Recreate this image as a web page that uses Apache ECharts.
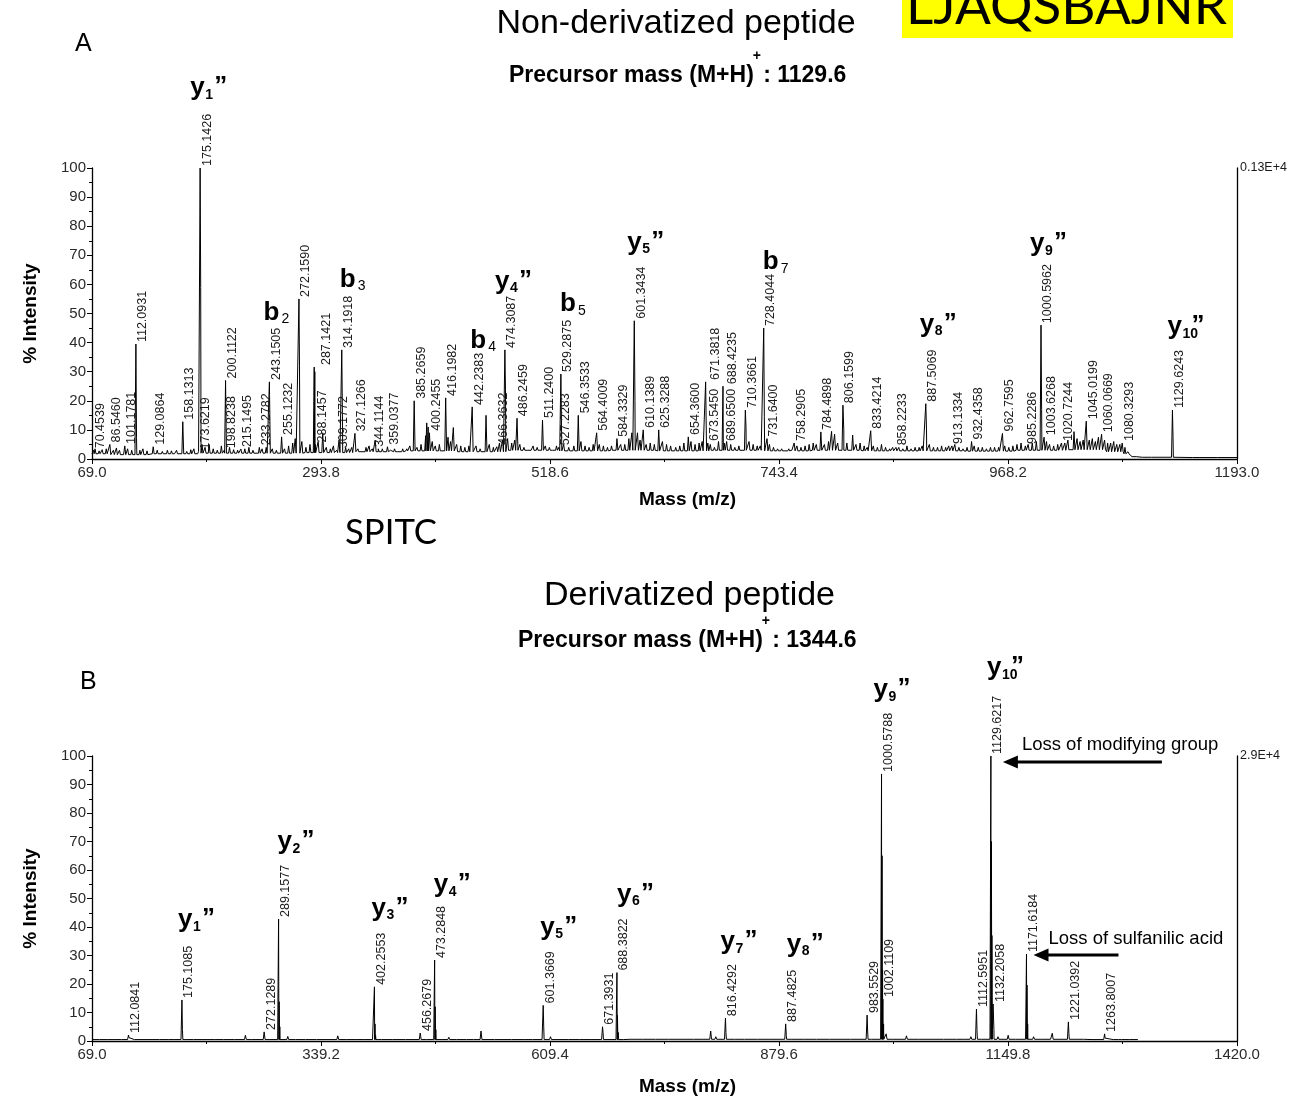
<!DOCTYPE html>
<html>
<head>
<meta charset="utf-8">
<title>MS/MS spectra</title>
<script src="https://cdn.jsdelivr.net/npm/echarts@6/dist/echarts.min.js"></script>
<style>
  html, body { margin: 0; padding: 0; background: #fff; }
  #chart { width: 1301px; height: 1097px; }
</style>
</head>
<body>
<div id="chart"></div>
<script>
// ---------------- Panel A: non-derivatized peptide ----------------
const tickLabelsA = ['69.0', '293.8', '518.6', '743.4', '968.2', '1193.0'];
const precursorA = '1129.6';

// labelled peaks [m/z, % intensity]
const peaksA = [
  [70.4539, 3], [86.5460, 5], [101.1781, 4.5], [112.0931, 39.5], [129.0864, 4.2],
  [158.1313, 12.8], [173.6219, 2.6], [175.1426, 100], [198.8238, 3], [200.1122, 27],
  [215.1495, 3.4], [233.2782, 4], [243.1505, 26.5], [255.1232, 7.6], [272.1590, 55],
  [287.1421, 31.6], [288.1457, 5], [309.1772, 3], [314.1918, 37.5], [327.1266, 8.8],
  [344.1144, 3.5], [359.0377, 4.2], [385.2659, 20], [400.2455, 9], [416.1982, 21],
  [442.2383, 17.9], [466.3632, 4.2], [474.3087, 37.5], [486.2459, 14], [511.2400, 13.4],
  [527.2283, 4], [529.2875, 29.2], [546.3533, 15], [564.4009, 9], [584.3329, 7],
  [601.3434, 47.5], [610.1389, 10], [625.3288, 10], [654.3600, 7.6], [671.3818, 26.5],
  [673.5450, 5.5], [688.4235, 25], [689.6500, 5.5], [710.3661, 16.8], [728.4044, 45],
  [731.6400, 7], [758.2905, 5.5], [784.4898, 9.3], [806.1599, 18.5], [833.4214, 9.7],
  [858.2233, 4], [887.5069, 19], [913.1334, 4.5], [932.4358, 6], [962.7595, 8.8],
  [985.2286, 4.5], [1000.5962, 46], [1003.6268, 7.5], [1020.7244, 5.5], [1045.0199, 13],
  [1060.0669, 8.5], [1080.3293, 5.5], [1129.6243, 16.8]
];

// unlabelled peaks, shoulders and baseline grass [m/z, % intensity]
const minorA = [
  [72, 3.5], [76, 2.8], [79, 3.2], [83, 3.5], [90, 3], [93, 3.8], [96, 3], [104, 3.5], [108, 3],
  [112.7, 7.5], [116, 3], [119, 3.5], [123, 2.8], [133, 3], [138, 2.6], [143, 3], [147, 2.8],
  [152, 3], [162, 2.6], [166, 3.2], [169, 3.5], [175.7, 59], [177, 5], [180, 4], [184, 5],
  [188, 3.5], [192, 3], [196, 4.5], [200.7, 9], [204, 4], [208, 3.2], [212, 3], [219, 3.5],
  [223, 4], [227, 3], [236, 3.5], [240, 4], [246, 3.5], [250, 3], [258, 3.5], [262, 4.5],
  [266, 5.5], [268.5, 7], [272.7, 32], [275, 6], [279, 4], [283, 5], [287.7, 30], [291, 6],
  [295.5, 9], [299, 4], [303, 3.5], [306, 4.5], [311.5, 6.5], [314.8, 16], [318, 4], [321, 3.5],
  [324, 4], [330, 3.5], [334, 3], [338, 4], [341, 4.5], [347, 6.5], [350, 3.5], [354, 3.5],
  [362, 3], [366, 3.5], [370, 3], [374, 3.5], [378, 3.5], [381, 4.5], [388, 4], [392, 5],
  [396.5, 8], [397.6, 12.4], [399, 11], [403, 6], [406, 4.5], [410, 5], [418.5, 7.5], [421, 6],
  [423.7, 10.8], [427, 5], [431, 4.5], [435, 4], [439, 4.5], [446, 4.5], [450, 3.5], [455.8, 15],
  [459, 5], [463, 4], [469, 5.5], [472, 6.5], [474.9, 24], [477, 7], [481, 5.5], [484, 6.5],
  [489, 5], [493, 4], [497, 3.5], [502, 4.5], [506, 4], [514, 4.5], [518, 4], [522, 3.5],
  [525, 4.5], [532, 5], [537, 4], [542, 4.5], [549, 6], [553, 4.5], [557, 4], [561, 5],
  [567, 5], [571, 4.5], [575, 4], [579, 4.5], [588, 5], [592, 5], [596, 7], [599, 9],
  [602, 20], [604.5, 9], [607, 6.5], [613, 5], [617, 5.5], [621, 5], [629, 6], [633, 5],
  [637, 4.5], [642, 4], [646, 4.5], [650, 5.5], [657, 6], [661, 5], [665, 5.5], [668, 6],
  [676, 5], [680, 4], [684, 6], [692, 6], [696, 5], [700, 4], [704, 4.5], [711, 11], [714, 6],
  [718, 5], [722, 4.5], [725, 4.5], [729, 14.5], [734, 5], [738, 4], [742, 3.5], [746, 3.5],
  [750, 3], [753, 3.5], [756, 3], [761, 4.5], [765, 4], [769, 4.5], [773, 5], [777, 5.5],
  [780, 5], [788, 5], [792, 6], [795, 9.5], [798, 8.5], [801, 5.5], [807, 10], [810, 5.5],
  [815.7, 8.2], [819, 5], [823, 5.5], [827, 4.5], [830, 4], [836, 4.5], [840, 4], [844, 5],
  [848, 4], [852, 3.5], [855, 4], [861, 4], [865, 3.5], [869, 4.5], [873, 3.5], [877, 4],
  [881, 4], [884, 4.5], [888.2, 10], [891, 5], [895, 4], [899, 4], [903, 4.5], [907, 4],
  [910, 4.5], [916, 5], [920, 4], [924, 3.5], [928, 4], [935, 4.5], [939, 4], [943, 4],
  [947, 3.5], [951, 4], [955, 4], [959, 4], [965, 4.5], [969, 4], [973, 4.5], [977, 5],
  [981, 5.5], [988, 5], [992, 5.5], [996, 6], [1001.2, 17], [1006, 6], [1009, 5], [1013, 4.5],
  [1017, 5], [1024, 5.5], [1027, 6.5], [1033, 9.4], [1036, 7], [1039, 6], [1042, 6.5],
  [1048, 6.5], [1051, 7], [1054, 6], [1057, 7.5], [1063, 6.5], [1066, 5.5], [1069, 5.5],
  [1072, 6], [1075, 5], [1078, 5], [1083, 4], [1086, 2.5], [1095, 1], [1110, 0.8],
  [1130.2, 7.7], [1150, 0.7], [1175, 0.7]
];

// valley level of the trace [m/z, % intensity]
const baseA = [
  [69, 1.8], [100, 1.5], [150, 1.8], [200, 2], [250, 2], [300, 2.2], [350, 2.5], [400, 2.8],
  [450, 2.5], [500, 3], [550, 2.8], [600, 3], [650, 2.8], [700, 3], [750, 2.8], [800, 3],
  [850, 2.8], [900, 2.8], [950, 2.7], [1000, 3], [1050, 3.2], [1080, 2.5], [1085, 1.8],
  [1090, 0.8], [1100, 0.6], [1193, 0.5]
];

// fragment ion assignments [ion type, index, m/z of assigned peak]
const ionsA = [
  ['y', '1', 175.1426], ['b', '2', 243.1505], ['b', '3', 314.1918], ['b', '4', 442.2383],
  ['y', '4', 474.3087], ['b', '5', 529.2875], ['y', '5', 601.3434], ['b', '7', 728.4044],
  ['y', '8', 887.5069], ['y', '9', 1000.5962], ['y', '10', 1129.6243]
];

// ---------------- Panel B: derivatized peptide ----------------
const tickLabelsB = ['69.0', '339.2', '609.4', '879.6', '1149.8', '1420.0'];
const precursorB = '1344.6';

const peaksB = [
  [112.0841, 2.1], [175.1085, 14.4], [272.1289, 3.2], [289.1577, 42.8], [402.2553, 19],
  [456.2679, 2.8], [473.2848, 28.4], [601.3669, 12.5], [671.3931, 5], [688.3822, 24],
  [816.4292, 8], [887.4825, 6], [983.5529, 9.1], [1000.5788, 93.7], [1002.1109, 14.7],
  [1112.5951, 11.2], [1129.6217, 100], [1132.2058, 13], [1171.6184, 30.5], [1221.0392, 6.7],
  [1263.8007, 2.5]
];

const minorB = [
  [79, 0.9], [88, 1], [96, 0.8], [105, 1], [112.6, 1.2], [120, 0.9], [135, 1], [150, 0.8],
  [160, 1.1], [168, 1], [175.7, 4], [180, 1.2], [190, 0.9], [200, 1.1], [215, 0.8], [225, 1.2],
  [238, 1], [250, 2], [258, 0.9], [272.9, 2.5], [280, 1.2], [289.8, 13.8], [290.6, 5], [300, 1.6],
  [310, 1], [322, 1.1], [335, 0.9], [345, 1.1], [359, 1.8], [370, 1], [381.7, 1.2], [390, 0.9],
  [402.9, 6], [403.6, 2], [412, 1.2], [425, 1], [440, 1.1], [456.9, 1.5], [465, 1], [473.9, 12],
  [474.7, 4], [482, 1.2], [490, 1.3], [500, 1], [512, 1.1], [520, 0.9], [528, 3.5], [535, 1],
  [545, 1.2], [555, 1], [565, 1.1], [580, 1], [590, 1.2], [602, 5], [610, 1.5], [620, 1],
  [632, 1.1], [645, 1], [660, 1.2], [672, 3], [689, 9], [689.9, 3], [697, 1.2], [705, 1],
  [720, 1.1], [735, 1], [750, 1], [765, 1.1], [780, 1], [790, 1.2], [799, 3.5], [805, 1.5],
  [817, 3], [828, 1], [840, 1.1], [855, 1], [870, 1.1], [888.2, 2], [895, 1], [910, 1.1],
  [925, 1], [940, 1.1], [955, 1.2], [965, 1], [975, 1.3], [984.2, 3.5], [990, 1.2],
  [1001.2, 65], [1001.8, 25], [1003, 6], [1006, 2.5], [1015, 1.2], [1030, 1.8], [1045, 1],
  [1060, 1.1], [1075, 1], [1090, 1.2], [1100, 1], [1106, 1.5], [1113.2, 4], [1120, 1.2],
  [1130.2, 70], [1130.8, 37], [1133.2, 4], [1138, 1.5], [1150, 2], [1160, 1.2], [1172.2, 19.6],
  [1173, 6], [1180, 1.5], [1190, 1.1], [1202, 2.7], [1210, 1.2], [1221.7, 2.5], [1230, 1],
  [1240, 1.1], [1250, 1], [1264.4, 1], [1275, 1], [1285, 1.1], [1294, 1]
];

const baseB = [
  [69, 0.5], [200, 0.5], [400, 0.5], [600, 0.5], [800, 0.6], [1000, 0.6], [1200, 0.6],
  [1280, 0.5], [1303, 0.5]
];

const ionsB = [
  ['y', '1', 175.1085], ['y', '2', 289.1577], ['y', '3', 402.2553], ['y', '4', 473.2848],
  ['y', '5', 601.3669], ['y', '6', 688.3822], ['y', '7', 816.4292], ['y', '8', 887.4825],
  ['y', '9', 1000.5788], ['y', '10', 1129.6217]
];

// neutral-loss annotations [m/z of peak, text]
const notesB = [
  [1129.6217, 'Loss of modifying group'],
  [1171.6184, 'Loss of sulfanilic acid']
];

// ---------------- layout (pixel offsets from the peak apex) ----------------
const ionOffsetA = [
  [-10, -72], [-6, -61], [-2, -62], [-2, -58], [-10, -60], [-1, -62],
  [-7, -70], [-1, -58], [-6, -71], [-11, -73], [-5, -75]
];
const ionOffsetB = [
  [-4, -72], [-1, -69], [-3, -70], [-1, -67], [-3, -70],
  [0, -70], [-5, -68], [1, -71], [-8, -76], [-4, -80]
];
const labelShiftA = { '287.1421': 5, '671.3818': 3, '688.4235': 3 };
const labelShiftB = {};
const noteLayoutB = [
  { tip: [12, 6], len: 159, text: [19, -11] },
  { tip: [7, 1], len: 85, text: [15, -10] }
];

const FONT = "'Liberation Sans', Arial, Helvetica, sans-serif";
const SOFT = "Lato, 'Open Sans', sans-serif";

// ---------------- helpers ----------------
function nearestLevel(base, mz) {
  let best = base[0];
  for (const b of base) if (Math.abs(b[0] - mz) < Math.abs(best[0] - mz)) best = b;
  return best[1];
}

// profile trace: every peak rises from the local valley level
function buildTrace(peaks, minor, base, hw) {
  const pts = base.map(p => [p[0], p[1]]);
  peaks.concat(minor).forEach(([mz, h]) => {
    const f = nearestLevel(base, mz);
    pts.push([mz - hw, f], [mz, h], [mz + hw, f]);
  });
  pts.sort((a, b) => a[0] - b[0]);
  return pts;
}

function heightOf(peaks, mz) {
  const p = peaks.find(q => q[0] === mz);
  return p ? p[1] : 0;
}

const measureCtx = document.createElement('canvas').getContext('2d');
function textWidth(str, font) { measureCtx.font = font; return measureCtx.measureText(str).width; }
function fitSize(str, family, width) { return 100 * width / textWidth(str, `100px ${family}`); }

function labelSeries(peaks, shifts, xi, yi) {
  return {
    type: 'custom', xAxisIndex: xi, yAxisIndex: yi, clip: false, silent: true, z: 5,
    data: peaks,
    renderItem: (params, api) => {
      const mz = api.value(0);
      const text = mz.toFixed(4);
      const p = api.coord([mz, api.value(1)]);
      return {
        type: 'text', x: p[0] + 7 + (shifts[text] || 0), y: p[1] - 2, rotation: Math.PI / 2,
        style: { text, font: `12.5px ${FONT}`, fill: '#1a1a1a', align: 'left', verticalAlign: 'middle' }
      };
    }
  };
}

function ionSeries(ions, peaks, offs, xi, yi) {
  return {
    type: 'custom', xAxisIndex: xi, yAxisIndex: yi, clip: false, silent: true, z: 6,
    data: ions.map(t => [t[2], heightOf(peaks, t[2])]),
    renderItem: (params, api) => {
      const i = params.dataIndex;
      const letter = ions[i][0], sub = ions[i][1];
      const p = api.coord([api.value(0), api.value(1)]);
      const ax = p[0] + offs[i][0], base = p[1] + offs[i][1];
      const isY = letter === 'y';
      const kids = [
        { type: 'text', x: ax, y: base - 8,
          style: { text: letter, font: `bold 26px ${FONT}`, fill: '#000', align: 'left', verticalAlign: 'middle' } },
        { type: 'text', x: ax + (isY ? 15 : 18), y: base - 1.3,
          style: { text: sub, font: `${isY ? 'bold ' : ''}14px ${FONT}`, fill: '#000', align: 'left', verticalAlign: 'middle' } }
      ];
      if (isY) {
        kids.push({ type: 'text', x: ax + 24, y: base - 9,
          style: { text: '\u201D', font: `bold 26px ${FONT}`, fill: '#000', align: 'left', verticalAlign: 'middle' } });
      }
      return { type: 'group', children: kids };
    }
  };
}

function noteSeries(notes, peaks, layout, xi, yi) {
  return {
    type: 'custom', xAxisIndex: xi, yAxisIndex: yi, clip: false, silent: true, z: 6,
    data: notes.map(n => [n[0], heightOf(peaks, n[0])]),
    renderItem: (params, api) => {
      const i = params.dataIndex;
      const L = layout[i];
      const p = api.coord([api.value(0), api.value(1)]);
      const tx = p[0] + L.tip[0], ty = p[1] + L.tip[1];
      return {
        type: 'group', children: [
          { type: 'line', shape: { x1: tx + 10, y1: ty, x2: tx + L.len, y2: ty },
            style: { stroke: '#000', lineWidth: 3 } },
          { type: 'polygon', shape: { points: [[tx, ty], [tx + 15, ty - 6.5], [tx + 15, ty + 6.5]] },
            style: { fill: '#000' } },
          { type: 'text', x: tx + L.text[0], y: ty + L.text[1] - 5.7,
            style: { text: notes[i][1], font: `18.5px ${FONT}`, fill: '#000', align: 'left', verticalAlign: 'middle' } }
        ]
      };
    }
  };
}

function xAxisFor(gridIndex, ticks, gap) {
  return {
    type: 'value', gridIndex,
    min: +ticks[0], max: +ticks[ticks.length - 1], interval: +ticks[1] - +ticks[0],
    name: 'Mass (m/z)', nameLocation: 'middle', nameGap: gap,
    nameTextStyle: { fontFamily: FONT, fontWeight: 'bold', fontSize: 19, color: '#000', padding: [0, 0, 0, 46] },
    axisLine: { show: true, lineStyle: { color: '#000', width: 1.3 } },
    axisTick: { show: true, length: 5, lineStyle: { color: '#000' } },
    minorTick: { show: true, splitNumber: 2, length: 3, lineStyle: { color: '#000' } },
    splitLine: { show: false },
    axisLabel: { fontFamily: FONT, fontSize: 15, color: '#2a2a2a', margin: 6,
      formatter: v => v.toFixed(1) }
  };
}

function yAxisLeft(gridIndex) {
  return {
    type: 'value', gridIndex, position: 'left', min: 0, max: 100, interval: 10,
    name: '% Intensity', nameLocation: 'middle', nameGap: 52, nameRotate: 90,
    nameTextStyle: { fontFamily: FONT, fontWeight: 'bold', fontSize: 19, color: '#000' },
    axisLine: { show: true, lineStyle: { color: '#000', width: 1.3 } },
    axisTick: { show: true, length: 5, lineStyle: { color: '#000' } },
    minorTick: { show: true, splitNumber: 2, length: 3, lineStyle: { color: '#000' } },
    splitLine: { show: false },
    axisLabel: { fontFamily: FONT, fontSize: 15, color: '#2a2a2a', margin: 6 }
  };
}

function yAxisRight(gridIndex, scaleText) {
  return {
    type: 'value', gridIndex, position: 'right', min: 0, max: 100, interval: 100,
    axisLine: { show: true, lineStyle: { color: '#000', width: 1.3 } },
    axisTick: { show: false }, splitLine: { show: false },
    axisLabel: { fontFamily: FONT, fontSize: 12.5, color: '#1a1a1a', margin: 3,
      formatter: v => (v === 100 ? scaleText : '') }
  };
}

function precursorText(x0, baseY, value) {
  const f = `bold 23px ${FONT}`;
  const main = 'Precursor mass (M+H)';
  const w = textWidth(main, f);
  return [
    { type: 'text', x: x0, y: baseY - 7.1, style: { text: main, font: f, fill: '#000', align: 'left', verticalAlign: 'middle' } },
    { type: 'text', x: x0 + w - 1, y: baseY - 26.5, style: { text: '+', font: `bold 14px ${FONT}`, fill: '#000', align: 'left', verticalAlign: 'middle' } },
    { type: 'text', x: x0 + w + 3, y: baseY - 7.1, style: { text: ' : ' + value, font: f, fill: '#000', align: 'left', verticalAlign: 'middle' } }
  ];
}

const seqText = 'LJAQSBAJNR';
const seqSize = fitSize(seqText, SOFT, 321);
const tagText = 'SPITC';
const tagSize = fitSize(tagText, SOFT, 92);

const chart = echarts.init(document.getElementById('chart'), null, { renderer: 'canvas' });

chart.setOption({
  animation: false,
  backgroundColor: '#fff',
  grid: [
    { left: 92, top: 168, width: 1145, height: 291 },
    { left: 92, top: 756, width: 1145, height: 285 }
  ],
  xAxis: [xAxisFor(0, tickLabelsA, 31), xAxisFor(1, tickLabelsB, 36)],
  yAxis: [yAxisLeft(0), yAxisRight(0, '0.13E+4'), yAxisLeft(1), yAxisRight(1, '2.9E+4')],
  series: [
    { type: 'line', xAxisIndex: 0, yAxisIndex: 0, data: buildTrace(peaksA, minorA, baseA, 0.9),
      showSymbol: false, symbol: 'none', lineStyle: { color: '#000', width: 1 }, silent: true, z: 3 },
    labelSeries(peaksA, labelShiftA, 0, 0),
    ionSeries(ionsA, peaksA, ionOffsetA, 0, 0),
    { type: 'line', xAxisIndex: 1, yAxisIndex: 2, data: buildTrace(peaksB, minorB, baseB, 1.1),
      showSymbol: false, symbol: 'none', lineStyle: { color: '#000', width: 1 }, silent: true, z: 3 },
    labelSeries(peaksB, labelShiftB, 1, 2),
    ionSeries(ionsB, peaksB, ionOffsetB, 1, 2),
    noteSeries(notesB, peaksB, noteLayoutB, 1, 2)
  ],
  graphic: [
    { type: 'rect', shape: { x: 902, y: 0, width: 331, height: 38 }, style: { fill: '#ffff00' }, z: 1 },
    { type: 'text', x: 906, y: 33, z: 2,
      style: { text: seqText, font: `${seqSize}px ${SOFT}`, fill: '#000', align: 'left', verticalAlign: 'bottom' } },
    { type: 'text', x: 75, y: 44, style: { text: 'A', font: `25px ${FONT}`, fill: '#000', align: 'left', verticalAlign: 'middle' } },
    { type: 'text', x: 676, y: 23.5, style: { text: 'Non-derivatized peptide', font: `34px ${FONT}`, fill: '#000', align: 'center', verticalAlign: 'middle' } },
    ...precursorText(509, 83, precursorA),
    { type: 'text', x: 345, y: 550, style: { text: tagText, font: `${tagSize}px ${SOFT}`, fill: '#000', align: 'left', verticalAlign: 'bottom' } },
    { type: 'text', x: 689.5, y: 595.5, style: { text: 'Derivatized peptide', font: `34px ${FONT}`, fill: '#000', align: 'center', verticalAlign: 'middle' } },
    ...precursorText(518, 648, precursorB),
    { type: 'text', x: 80, y: 682, style: { text: 'B', font: `25px ${FONT}`, fill: '#000', align: 'left', verticalAlign: 'middle' } }
  ]
});
</script>
</body>
</html>
